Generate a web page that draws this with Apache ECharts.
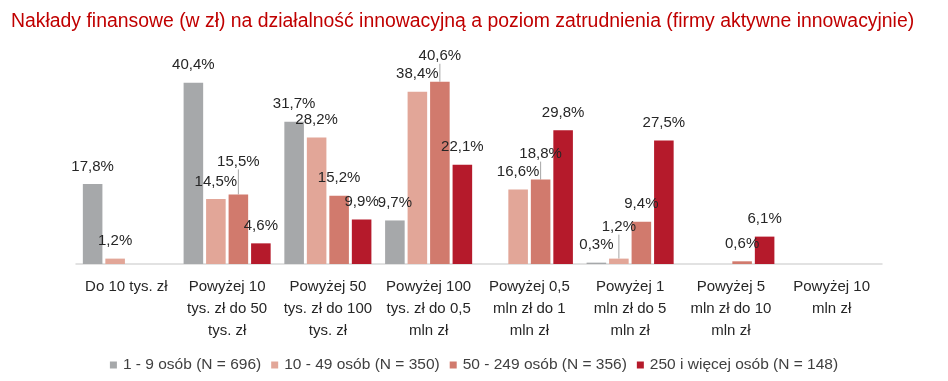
<!DOCTYPE html>
<html>
<head>
<meta charset="utf-8">
<script src="https://cdn.jsdelivr.net/npm/echarts@6/dist/echarts.min.js"></script>
<style>html,body{margin:0;padding:0;background:#fff}#c{width:948px;height:381px}</style>
</head>
<body>
<div id="c"></div>
<script>
const categories = [
  'Do 10 tys. zł',
  'Powyżej 10\ntys. zł do 50\ntys. zł',
  'Powyżej 50\ntys. zł do 100\ntys. zł',
  'Powyżej 100\ntys. zł do 0,5\nmln zł',
  'Powyżej 0,5\nmln zł do 1\nmln zł',
  'Powyżej 1\nmln zł do 5\nmln zł',
  'Powyżej 5\nmln zł do 10\nmln zł',
  'Powyżej 10\nmln zł'
];
const seriesNames = ['1 - 9 osób (N = 696)', '10 - 49 osób (N = 350)', '50 - 249 osób (N = 356)', '250 i więcej osób (N = 148)'];
const s1 = [17.8, 40.4, 31.7, 9.7, 0, 0.3, 0, 0];
const s2 = [1.2, 14.5, 28.2, 38.4, 16.6, 1.2, 0, 0];
const s3 = [0, 15.5, 15.2, 40.6, 18.8, 9.4, 0.6, 0];
const s4 = [0, 4.6, 9.9, 22.1, 29.8, 27.5, 6.1, 0];
const seriesValues = [s1, s2, s3, s4];
const colors = ['#A6A8AA', '#E2A698', '#D17A6D', '#B51A2B'];

// label displacement (px) for labels lifted with a leader line, key = seriesIndex-dataIndex
const labelLift = {'2-1': -15, '2-3': -8, '2-4': -8, '1-5': -14};

const FONT = "'Liberation Sans', Arial, sans-serif";
const fmt = v => v ? v.toFixed(1).replace('.', ',') + '%' : '';

const series = seriesValues.map((vals, si) => ({
  name: seriesNames[si],
  type: 'bar',
  barGap: '15%',
  barCategoryGap: '13.6%',
  itemStyle: {color: colors[si]},
  data: vals.map((v, di) => labelLift[si + '-' + di] !== undefined
    ? {value: v, labelLine: {show: true}}
    : {value: v}),
  label: {
    show: true,
    position: 'top',
    distance: 10,
    fontFamily: FONT,
    fontSize: 15,
    color: '#262626',
    formatter: p => fmt(p.value)
  },
  labelLine: {show: false, lineStyle: {color: '#A6A6A6', width: 1}},
  labelLayout: p => {
    const d = labelLift[p.seriesIndex + '-' + p.dataIndex];
    return d ? {dy: d} : {};
  }
}));

const chart = echarts.init(document.getElementById('c'));
chart.setOption({
  animation: false,
  title: {
    text: 'Nakłady finansowe (w zł) na działalność innowacyjną a poziom zatrudnienia (firmy aktywne innowacyjnie)',
    left: 6, top: 7,
    textStyle: {fontFamily: FONT, fontSize: 19.4, fontWeight: 'normal', color: '#C00000'}
  },
  legend: {
    data: seriesNames,
    top: 352,
    left: 'center',
    itemWidth: 7, itemHeight: 7, itemGap: 10,
    icon: 'rect',
    textStyle: {fontFamily: FONT, fontSize: 15.5, color: '#404040', padding: [0, 0, 0, 1]}
  },
  grid: {left: 76, right: 66, top: 62, bottom: 117, containLabel: false},
  xAxis: {
    type: 'category',
    data: categories,
    axisTick: {show: false},
    axisLine: {lineStyle: {color: '#D9D9D9', width: 1.5}},
    axisLabel: {interval: 0, fontFamily: FONT, fontSize: 15, color: '#262626', lineHeight: 22, margin: 12}
  },
  yAxis: {type: 'value', min: 0, max: 45, show: false, splitLine: {show: false}},
  series: series
});
</script>
</body>
</html>
